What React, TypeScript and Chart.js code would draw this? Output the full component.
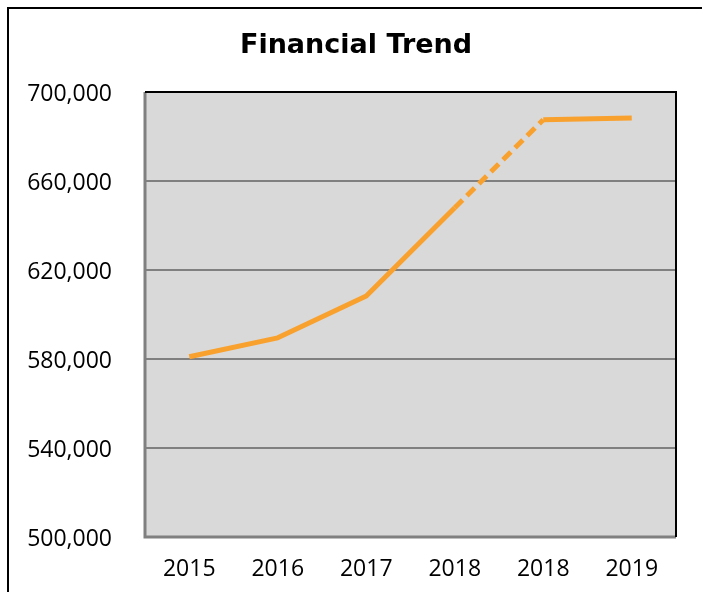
import React, { useEffect, useRef } from "react";
import { Chart, registerables } from "chart.js";

Chart.register(...registerables);

const categories = ["2015", "2016", "2017", "2018", "2018", "2019"];
const values = [581000, 589500, 608300, 648000, 687500, 688300];
const yMin = 500000;
const yMax = 700000;
const yStep = 40000;
const titleText = "Financial Trend";

const TITLE_FONT = "'DejaVu Sans', Verdana, sans-serif";
const TICK_FONT = "'Open Sans', 'DejaVu Sans', sans-serif";

const framePlugin = {
  id: "frame",
  beforeDraw(chart: any) {
    const { ctx, chartArea: a } = chart;
    ctx.save();
    ctx.fillStyle = "#ffffff";
    ctx.fillRect(0, 0, chart.width, chart.height);
    ctx.fillStyle = "#d9d9d9";
    ctx.fillRect(a.left, a.top, a.right - a.left, a.bottom - a.top);
    ctx.strokeStyle = "#000000";
    ctx.lineWidth = 2;
    ctx.strokeRect(8, 8, chart.width + 20, chart.height + 20);
    ctx.fillStyle = "#000000";
    ctx.font = `bold 27px ${TITLE_FONT}`;
    ctx.textAlign = "center";
    ctx.textBaseline = "middle";
    ctx.fillText(titleText, 356, 46);
    ctx.restore();
  },
  beforeDatasetsDraw(chart: any) {
    const { ctx, chartArea: a } = chart;
    ctx.save();
    ctx.lineWidth = 3;
    ctx.strokeStyle = "#808080";
    ctx.beginPath();
    ctx.moveTo(a.left, a.top);
    ctx.lineTo(a.left, a.bottom);
    ctx.lineTo(a.right, a.bottom);
    ctx.stroke();
    ctx.strokeStyle = "#000000";
    ctx.lineWidth = 2;
    ctx.beginPath();
    ctx.moveTo(a.left, a.top);
    ctx.lineTo(a.right, a.top);
    ctx.lineTo(a.right, a.bottom);
    ctx.stroke();
    ctx.restore();
  },
};

export default function App() {
  const ref = useRef<HTMLCanvasElement>(null);
  useEffect(() => {
    if (!ref.current) return;
    const chart = new Chart(ref.current, {
      type: "line",
      data: {
        labels: categories,
        datasets: [
          {
            data: values,
            borderColor: "#f9a12f",
            borderWidth: 5,
            pointRadius: 0,
            tension: 0,
            fill: false,
            borderJoinStyle: "round",
            segment: {
              borderDash: (c: any) => (c.p0DataIndex === 3 ? [11, 6] : undefined),
            },
          } as any,
        ],
      },
      options: {
        responsive: false,
        animation: false,
        layout: { padding: { left: 0, right: 26, top: 92, bottom: 0 } },
        plugins: { legend: { display: false }, tooltip: { enabled: false }, title: { display: false } },
        scales: {
          x: {
            offset: true,
            grid: { display: false, drawTicks: false, offset: true },
            border: { display: false },
            ticks: { color: "#000", font: { family: TICK_FONT, size: 23 }, padding: 19, maxRotation: 0 },
            afterFit: (s: any) => {
              s.height = 55;
            },
          },
          y: {
            min: yMin,
            max: yMax,
            grid: { color: "#808080", lineWidth: 2, drawTicks: false },
            border: { display: false },
            ticks: {
              stepSize: yStep,
              color: "#000",
              font: { family: TICK_FONT, size: 23 },
              padding: 33,
              labelOffset: 2,
              callback: (v: any) => Number(v).toLocaleString("en-US"),
            },
            afterFit: (s: any) => {
              s.width = 145;
            },
          },
        },
      },
      plugins: [framePlugin],
    });
    return () => chart.destroy();
  }, []);
  return (
    <div style={{ position: "fixed", left: 0, top: 0, width: 702, height: 592 }}>
      <canvas ref={ref} width={702} height={592} style={{ display: "block" }} />
    </div>
  );
}
